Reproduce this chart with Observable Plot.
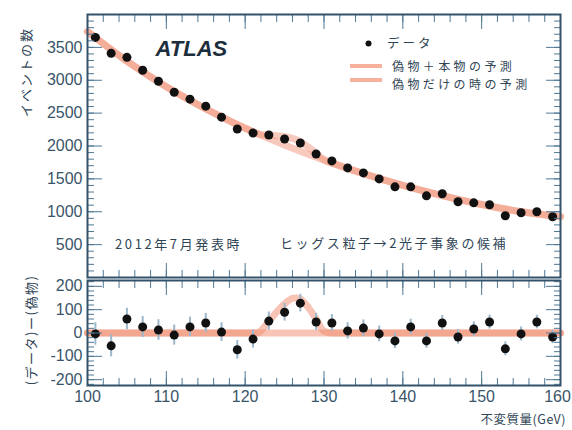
<!DOCTYPE html>
<html><head><meta charset="utf-8">
<script src="https://cdn.jsdelivr.net/npm/d3@7"></script>
<script src="https://cdn.jsdelivr.net/npm/@observablehq/plot@0.6"></script>
<style>
body{margin:0;background:#fff;}
#wrap{position:relative;width:572px;height:430px;overflow:hidden;}
#top,#bot{position:absolute;left:0;}
#top{top:0;} #bot{top:270px;}
.t{position:absolute;white-space:nowrap;line-height:1;font-family:"Noto Sans CJK JP",sans-serif;font-size:13px;letter-spacing:2.6px;color:#2f4556;}
.lg{position:absolute;height:4px;background:#f6b09b;}
</style></head>
<body><div id="wrap"><div id="top"></div><div id="bot"></div></div>
<script>
// ---- data ----
const massBins = [101,103,105,107,109,111,113,115,117,119,121,123,125,127,129,131,133,135,137,139,141,143,145,147,149,151,153,155,157,159];
const events = [3652,3409,3348,3152,2985,2818,2712,2606,2439,2258,2197,2167,2106,2045,1879,1773,1667,1591,1500,1379,1379,1242,1273,1152,1136,1106,939,985,1000,924];
const residuals = [-4,-55,60,26,13,-9,26,43,4,-72,-26,51,89,128,47,43,9,21,-4,-34,26,-34,43,-17,17,47,-68,-4,47,-17];
const residErrors = [48,47,46,45,44,43,42,41,40,40,39,39,38,38,37,36,35,35,34,33,33,32,32,31,31,30,30,30,29,29];
const bgMass = [100,105,110,115,120,125,130,135,140,145,150,155,160];
const bgOnly = [3740,3290,2900,2565,2270,2015,1785,1580,1400,1245,1110,1000,925];
const sigBgMass = [100,105,110,115,120,122,123,124,125,126,127,128,129,130,132,135,140,145,150,155,160];
const sigBg = [3740,3290,2900,2565,2270,2175,2165,2155,2140,2116,2065,1985,1890,1793,1700,1580,1400,1245,1110,1000,925];
const bgResidMass = [100,160];
const bgResid = [0,0];
const sigMass = [100,121.5,122,123,124,125,126,126.5,127,128,129,130,131,160];
const sigResid = [0,0,10,50,90,125,148,150,145,110,60,8,0,0];
const topTickLabels = [500,1000,1500,2000,2500,3000,3500];
const botTickLabels = [-200,-100,0,100,200];
const xTickLabels = [100,110,120,130,140,150];
const xLastLabel = [160];

// ---- styles ----
const frameColor = "#33526a";
const tickColor = "#4f7894";
const textColor = "#3a5569";
const salmon = "#f08a6c";
const numFont = "'Liberation Sans', Arial, sans-serif";

const pts = massBins.map((m,i)=>({m, n:events[i], r:residuals[i], e:residErrors[i]}));
const bgLine = bgMass.map((m,i)=>({m, v:bgOnly[i]}));
const sbLine = sigBgMass.map((m,i)=>({m, v:sigBg[i]}));
const bgRes = bgResidMass.map((m,i)=>({m, v:bgResid[i]}));
const sigRes = sigMass.map((m,i)=>({m, v:sigResid[i]}));

function tickAxes(yMinor, yMajor, xMinor, xMajor){
  const o = {fill:"none", stroke:tickColor, label:null};
  return [
    Plot.axisY(yMinor, {...o, anchor:"left", tickSize:-7}),
    Plot.axisY(yMajor, {...o, anchor:"left", tickSize:-15}),
    Plot.axisY(yMinor, {...o, anchor:"right", tickSize:-7}),
    Plot.axisY(yMajor, {...o, anchor:"right", tickSize:-15}),
    Plot.axisX(xMinor, {...o, anchor:"bottom", tickSize:-7}),
    Plot.axisX(xMajor, {...o, anchor:"bottom", tickSize:-14}),
    Plot.axisX(xMinor, {...o, anchor:"top", tickSize:-7}),
    Plot.axisX(xMajor, {...o, anchor:"top", tickSize:-14})
  ];
}

const xMinor = d3.range(100,160.1,2);
const xMajor = d3.range(100,160.1,10);

const topPlot = Plot.plot({
  width:572, height:280,
  marginLeft:87, marginRight:12, marginTop:14, marginBottom:3,
  x:{domain:[100,160]},
  y:{domain:[0,4000]},
  style:{background:"transparent", fontFamily:numFont, fontSize:"16px", color:textColor, overflow:"visible"},
  marks:[
    Plot.line(bgLine, {x:"m", y:"v", stroke:salmon, strokeWidth:7, strokeOpacity:0.45, curve:"monotone-x"}),
    Plot.line(sbLine, {x:"m", y:"v", stroke:salmon, strokeWidth:7, strokeOpacity:0.45, curve:"monotone-x"}),
    Plot.dot(pts, {x:"m", y:"n", r:4.5, fill:"#111", stroke:"none"}),
    ...tickAxes(d3.range(0,4000.1,100), d3.range(0,4000.1,500), xMinor, xMajor),
    Plot.axisY(topTickLabels, {anchor:"left", tickSize:0, tickPadding:5, fill:textColor, fontSize:16, label:null, tickFormat:d=>String(d)}),
    Plot.dot([0], {frameAnchor:"top-left", dx:281, dy:29, r:3, fill:"#111"}),
    Plot.text(["ATLAS"], {frameAnchor:"top-left", dx:68, dy:26, textAnchor:"start", fontSize:22, fontWeight:"bold", fontStyle:"italic", fill:"#1c2e3c", letterSpacing:"1.5px"}),
    Plot.frame({stroke:frameColor, strokeWidth:2})
  ]
});
document.getElementById("top").append(topPlot);

const botPlot = Plot.plot({
  width:572, height:160,
  marginLeft:87, marginRight:12, marginTop:10, marginBottom:45,
  x:{domain:[100,160]},
  y:{domain:[-225,225]},
  style:{background:"transparent", fontFamily:numFont, fontSize:"16px", color:textColor, overflow:"visible"},
  marks:[
    Plot.line(bgRes, {x:"m", y:"v", stroke:salmon, strokeWidth:7, strokeOpacity:0.5}),
    Plot.line(sigRes, {x:"m", y:"v", stroke:salmon, strokeWidth:7, strokeOpacity:0.5, curve:"monotone-x"}),
    Plot.ruleX(pts, {x:"m", y1:d=>d.r-d.e, y2:d=>d.r+d.e, stroke:"#9bb8cc", strokeWidth:2}),
    Plot.dot(pts, {x:"m", y:"r", r:4.5, fill:"#111", stroke:"none"}),
    ...tickAxes(d3.range(-220,220.1,20), d3.range(-200,200.1,100), xMinor, xMajor),
    Plot.axisY(botTickLabels, {anchor:"left", tickSize:0, tickPadding:5, fill:textColor, fontSize:16, label:null, tickFormat:d=>String(d)}),
    Plot.axisX(xTickLabels, {anchor:"bottom", tickSize:0, tickPadding:5, fill:textColor, fontSize:16, label:null, tickFormat:d=>String(d)}),
    Plot.axisX(xLastLabel, {anchor:"bottom", tickSize:0, tickPadding:5, fill:textColor, fontSize:16, label:null, dx:-3, tickFormat:d=>String(d)}),
    Plot.frame({stroke:frameColor, strokeWidth:2})
  ]
});
document.getElementById("bot").append(botPlot);

// ---- text overlays ----
const wrap = document.getElementById("wrap");
function addText(txt, x, y, opts={}){
  const s = document.createElement("div");
  s.className = "t";
  s.textContent = txt;
  s.style.left = x + "px";
  s.style.top = y + "px";
  let tr = "translateY(-50%)";
  if (opts.right) tr = "translate(-100%,-50%)";
  if (opts.rotate) tr = "translate(-50%,-50%) rotate(-90deg)";
  s.style.transform = tr;
  if (opts.size) s.style.fontSize = opts.size + "px";
  if (opts.ls != null) s.style.letterSpacing = opts.ls + "px";
  wrap.append(s);
}
function addLine(x, y, w){
  const d = document.createElement("div");
  d.className = "lg";
  d.style.left = x + "px"; d.style.top = (y-2) + "px"; d.style.width = w + "px";
  wrap.append(d);
}
addText("データ", 387, 43, {size:12.5, ls:3});
addLine(350, 66, 32);
addLine(350, 80, 32);
addText("偽物＋本物の予測", 392, 65.5, {size:12, ls:3.4});
addText("偽物だけの時の予測", 392, 84, {size:12, ls:3.4});
addText("2012年7月発表時", 115, 243);
addText("ヒッグス粒子→2光子事象の候補", 280, 242);
addText("不変質量(GeV)", 566, 419, {right:true, ls:0.5, size:12.5});
addText("イベントの数", 25, 72, {rotate:true, ls:2});
addText("(データ)ー(偽物)", 30, 330, {rotate:true, ls:1.5});
</script>
</body></html>
